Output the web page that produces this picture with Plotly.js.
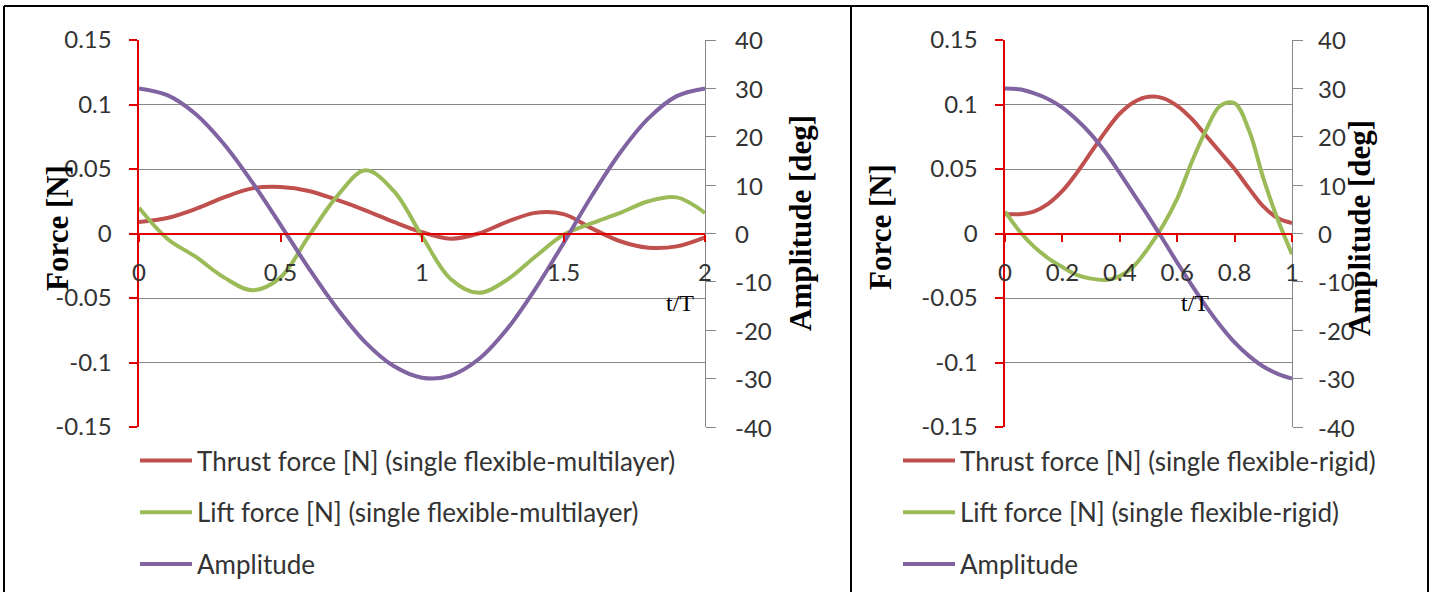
<!DOCTYPE html>
<html><head><meta charset="utf-8">
<script src="https://cdn.plot.ly/plotly-3.0.1.min.js"></script>
<style>html,body{margin:0;padding:0;background:#fff;} #chart{width:1432px;height:592px;}</style>
</head><body><div id="chart"></div>
<script>
// ---- data ----
const tLeft = [0,0.1,0.2,0.3,0.4,0.5,0.6,0.7,0.8,0.9,1.0,1.1,1.2,1.3,1.4,1.5,1.6,1.7,1.8,1.9,2.0];
const thrustLeft = [0.009,0.012,0.019,0.028,0.035,0.036,0.033,0.026,0.018,0.009,0.001,-0.004,0.000,0.009,0.016,0.015,0.004,-0.006,-0.011,-0.010,-0.003];
const liftLeft = [0.020,-0.004,-0.018,-0.034,-0.044,-0.034,-0.002,0.029,0.049,0.033,-0.002,-0.035,-0.046,-0.036,-0.018,-0.001,0.008,0.016,0.025,0.028,0.016];
const ampLeft = [30,28.6,24.7,18.5,10.6,1.8,-7.2,-15.5,-22.5,-27.4,-29.8,-29.4,-26.0,-19.8,-11.5,-2.0,7.8,16.7,23.8,28.4,30];

const tRight = [0,0.05,0.1,0.15,0.2,0.25,0.3,0.35,0.4,0.45,0.5,0.55,0.6,0.65,0.7,0.75,0.8,0.85,0.9,0.95,1.0];
const thrustRight = [0.015,0.015,0.017,0.023,0.033,0.047,0.063,0.079,0.093,0.102,0.106,0.105,0.099,0.089,0.076,0.063,0.050,0.035,0.021,0.012,0.008];
const liftRight = [0.017,0.002,-0.010,-0.019,-0.026,-0.032,-0.035,-0.036,-0.033,-0.025,-0.011,0.006,0.027,0.055,0.080,0.099,0.101,0.080,0.043,0.011,-0.016];
const ampRight = [30,29.8,29,27.8,26,23.5,20.5,16.8,12.5,8,3.5,-1.2,-6,-10.6,-15,-19,-22.5,-25.3,-27.5,-29,-30];

const namesLeft = ['Thrust force [N] (single flexible-multilayer)','Lift force [N] (single flexible-multilayer)','Amplitude'];
const namesRight = ['Thrust force [N] (single flexible-rigid)','Lift force [N] (single flexible-rigid)','Amplitude'];

const forceTickVals = [-0.15,-0.1,-0.05,0,0.05,0.1,0.15];
const forceTickText = ['-0.15','-0.1','-0.05','0','0.05','0.1','0.15'];
const ampTickVals = [-40,-30,-20,-10,0,10,20,30,40];
const ampTickText = ['-40','-30','-20','-10','0','10','20','30','40'];
const xTickLeftVals = [0,0.5,1,1.5,2];
const xTickLeftText = ['0','0.5','1','1.5','2'];
const xTickRightVals = [0,0.2,0.4,0.6,0.8,1];
const xTickRightText = ['0','0.2','0.4','0.6','0.8','1'];

const forceTitle = 'Force [N]';
const ampTitle = 'Amplitude [deg]';
const timeTitle = 't/T';

// ---- styling ----
const W = 1432, H = 592;
const fx = p => p / W;
const fy = p => 1 - p / H;
const C_THRUST = '#C0504D', C_LIFT = '#9BBB59', C_AMP = '#8064A2';
const RED = '#E00000', GRID = '#878787', TXT = '#333333';
const tickFont = {family: 'Lato, sans-serif', size: 24, color: TXT};
const legFont = {family: 'Lato, sans-serif', size: 26, color: TXT};
const yDom = [fy(427), fy(40)];
const yMid = (yDom[0] + yDom[1]) / 2;

function tr(x, y, name, color, xa, ya, leg, grp) {
  return {x: x, y: y, name: name, type: 'scatter', mode: 'lines',
    line: {color: color, width: 4, shape: 'spline', smoothing: 1},
    xaxis: xa, yaxis: ya, legend: leg, legendgroup: grp, hoverinfo: 'skip'};
}
const data = [
  tr(tLeft, thrustLeft, namesLeft[0], C_THRUST, 'x', 'y', 'legend', 'a'),
  tr(tLeft, liftLeft, namesLeft[1], C_LIFT, 'x', 'y', 'legend', 'b'),
  tr(tLeft, ampLeft, namesLeft[2], C_AMP, 'x', 'y2', 'legend', 'c'),
  tr(tRight, thrustRight, namesRight[0], C_THRUST, 'x2', 'y3', 'legend2', 'd'),
  tr(tRight, liftRight, namesRight[1], C_LIFT, 'x2', 'y3', 'legend2', 'e'),
  tr(tRight, ampRight, namesRight[2], C_AMP, 'x2', 'y4', 'legend2', 'f')
];

function xAx(dom, range, vals, text) {
  return {domain: dom, range: range, anchor: 'free', position: yMid,
    tickmode: 'array', tickvals: vals, ticktext: text,
    showline: true, linecolor: RED, linewidth: 2.5,
    ticks: 'outside', ticklen: 7, tickwidth: 2, tickcolor: RED,
    showgrid: false, zeroline: false, tickfont: tickFont, ticklabelstandoff: 10, fixedrange: true};
}
function yForce(anchor) {
  return {domain: yDom, range: [-0.15, 0.15], anchor: anchor,
    tickmode: 'array', tickvals: forceTickVals, ticktext: forceTickText,
    showline: true, linecolor: RED, linewidth: 2.5,
    ticks: 'outside', ticklen: 8, tickwidth: 2, tickcolor: RED,
    showgrid: true, gridcolor: GRID, gridwidth: 1, zeroline: false,
    tickfont: tickFont, ticklabelstandoff: 12, fixedrange: true};
}
// amplitude axis: line + ticks; its labels are placed on the same scale below
function yAmp(over, anchor) {
  return {overlaying: over, side: 'right', anchor: anchor, range: [-40, 40],
    tickmode: 'array', tickvals: ampTickVals,
    showline: true, linecolor: GRID, linewidth: 1,
    ticks: 'outside', ticklen: 10, tickwidth: 1, tickcolor: GRID, showticklabels: false,
    showgrid: false, zeroline: false, fixedrange: true};
}
function ampLabels(yref, xp) {
  return ampTickVals.map((v, i) => ({text: ampTickText[i], x: fx(xp), xref: 'paper', y: v, yref: yref,
    xanchor: 'left', yanchor: 'middle', showarrow: false, borderpad: 0, font: tickFont}));
}
function legendAt(xp) {
  return {x: fx(xp), y: fy(437), xanchor: 'left', yanchor: 'top',
    font: legFont, itemwidth: 52, tracegroupgap: 15, bgcolor: 'rgba(0,0,0,0)',
    borderwidth: 0, traceorder: 'grouped', itemclick: false, itemdoubleclick: false};
}
function ann(text, xp, yp, size, bold, angle) {
  return {text: bold ? '<b>' + text + '</b>' : text, x: fx(xp), y: fy(yp), xref: 'paper', yref: 'paper',
    xanchor: 'center', yanchor: 'middle', showarrow: false, textangle: angle,
    font: {family: 'Liberation Serif, Times New Roman, serif', size: size, color: '#000'}};
}
function border(x0, y0, x1, y1) {
  return {type: 'line', xref: 'paper', yref: 'paper', x0: fx(x0), y0: fy(y0), x1: fx(x1), y1: fy(y1),
    line: {color: '#000', width: 2}};
}

const layout = {
  width: W, height: H, autosize: false,
  margin: {l: 0, r: 0, t: 0, b: 0, pad: 0},
  paper_bgcolor: '#fff', plot_bgcolor: 'rgba(0,0,0,0)',
  showlegend: true,
  xaxis: xAx([fx(139), fx(705)], [0, 2], xTickLeftVals, xTickLeftText),
  yaxis: yForce('x'),
  yaxis2: yAmp('y', 'x'),
  xaxis2: xAx([fx(1005), fx(1292)], [0, 1], xTickRightVals, xTickRightText),
  yaxis3: yForce('x2'),
  yaxis4: yAmp('y3', 'x2'),
  legend: legendAt(135),
  legend2: legendAt(898),
  annotations: [
    ...ampLabels('y2', 734),
    ...ampLabels('y4', 1317),
    ann(forceTitle, 58, 228, 31, true, -90),
    ann(ampTitle, 800, 223, 31, true, -90),
    ann(timeTitle, 680, 303, 24, false, 0),
    ann(forceTitle, 880, 227, 31, true, -90),
    ann(ampTitle, 1360, 228, 31, true, -90),
    ann(timeTitle, 1195, 303, 24, false, 0)
  ],
  shapes: [
    border(4, 6, 1428, 6),
    border(4, 6, 4, 592),
    border(851, 6, 851, 592),
    border(1428, 6, 1428, 592)
  ]
};

Plotly.newPlot('chart', data, layout, {displayModeBar: false, staticPlot: true});
</script>
</body></html>
